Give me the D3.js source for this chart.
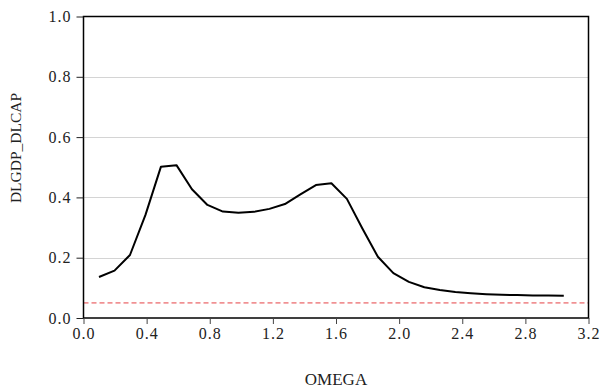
<!DOCTYPE html>
<html>
<head>
<meta charset="utf-8">
<script src="https://cdn.jsdelivr.net/npm/d3@7"></script>
<style>
  html, body { margin: 0; padding: 0; background: #fff; }
  svg { display: block; }
</style>
</head>
<body>
<svg id="chart" width="601" height="392"></svg>
<script>
// ---- data ----
const omegaSteps = [1,2,3,4,5,6,7,8,9,10,11,12,13,14,15,16,17,18,19,20,21,22,23,24,25,26,27,28,29,30,31];
const omega = omegaSteps.map(k => k * Math.PI / 32);
const coherence = [0.136,0.157,0.209,0.342,0.502,0.507,0.427,0.375,0.353,0.349,0.352,0.362,0.378,0.410,0.441,0.447,
                   0.395,0.297,0.203,0.149,0.120,0.102,0.093,0.086,0.082,0.079,0.077,0.076,0.075,0.075,0.074];
const refLevel = 0.05;
const xTicks = [0.0,0.4,0.8,1.2,1.6,2.0,2.4,2.8,3.2];
const yTicks = [0.0,0.2,0.4,0.6,0.8,1.0];
const xTitle = "OMEGA";
const yTitle = "DLGDP_DLCAP";

// ---- layout ----
const FONT = '"Liberation Serif", "Times New Roman", serif';
const svg = d3.select("#chart");
const L = 83.5, R = 588.5, T = 16.5, B = 318;
const x = d3.scaleLinear().domain([0, 3.2]).range([L, R]);
const y = d3.scaleLinear().domain([0, 1.0]).range([B, T]);

// gridlines
svg.append("g").selectAll("line")
  .data(yTicks.filter(v => v > 0 && v < 1))
  .join("line")
  .attr("x1", L).attr("x2", R)
  .attr("y1", d => Math.round(y(d)) + 0.5).attr("y2", d => Math.round(y(d)) + 0.5)
  .attr("stroke", "#d4d4d4").attr("stroke-width", 1);

// reference dashed line
svg.append("line")
  .attr("x1", L).attr("x2", R)
  .attr("y1", y(refLevel)).attr("y2", y(refLevel))
  .attr("stroke", "#e64044").attr("stroke-width", 1)
  .attr("stroke-dasharray", "5,3");

// series line
const line = d3.line().x((d, i) => x(omega[i])).y(d => y(d));
svg.append("path")
  .datum(coherence)
  .attr("d", line)
  .attr("fill", "none")
  .attr("stroke", "#000")
  .attr("stroke-width", 2)
  .attr("stroke-linejoin", "round");

// frame
svg.append("rect")
  .attr("x", L).attr("y", T).attr("width", R - L).attr("height", B - T)
  .attr("fill", "none").attr("stroke", "#000").attr("stroke-width", 1.5);

// axes
const xAxis = d3.axisBottom(x).tickValues(xTicks).tickFormat(d3.format(".1f"))
  .tickSizeInner(6).tickSizeOuter(0).tickPadding(4);
const gx = svg.append("g").attr("transform", `translate(0,${B})`).call(xAxis);
gx.select(".domain").remove();
gx.selectAll("line").attr("stroke", "#444");
gx.selectAll("text").style("font-family", FONT).style("font-size", "16px")
  .style("letter-spacing", "1px").attr("fill", "#222");

const yAxis = d3.axisLeft(y).tickValues(yTicks).tickFormat(d3.format(".1f"))
  .tickSizeInner(7).tickSizeOuter(0).tickPadding(5);
const gy = svg.append("g").attr("transform", `translate(${L},0)`).call(yAxis);
gy.select(".domain").remove();
gy.selectAll("line").attr("stroke", "#222");
gy.selectAll("text").style("font-family", FONT).style("font-size", "16px")
  .style("letter-spacing", "1px").attr("fill", "#222");

// titles
svg.append("text")
  .attr("x", 336).attr("y", 385)
  .attr("text-anchor", "middle")
  .style("font-family", FONT).style("font-size", "17px")
  .attr("fill", "#222")
  .text(xTitle);

svg.append("text")
  .attr("transform", "translate(20.5,148) rotate(-90)")
  .attr("text-anchor", "middle")
  .style("font-family", FONT).style("font-size", "15.5px")
  .attr("fill", "#222")
  .text(yTitle);
</script>
</body>
</html>
